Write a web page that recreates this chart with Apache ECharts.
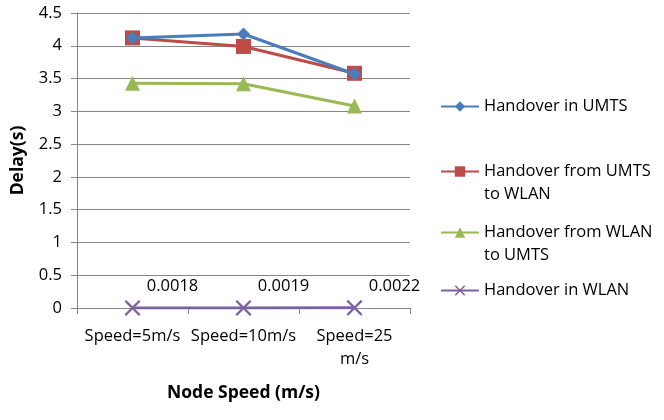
<!DOCTYPE html>
<html><head><meta charset="utf-8">
<script src="https://cdn.jsdelivr.net/npm/echarts@6/dist/echarts.min.js"></script>
<style>html,body{margin:0;padding:0;background:#fff}#c{width:664px;height:420px}</style>
</head><body><div id="c"></div>
<script>
const categories = ['Speed=5m/s', 'Speed=10m/s', 'Speed=25\nm/s'];
const seriesNames = ['Handover in UMTS', 'Handover from UMTS\nto WLAN', 'Handover from WLAN\nto UMTS', 'Handover in WLAN'];
const umts = [4.12, 4.18, 3.57];
const umtsToWlan = [4.12, 3.99, 3.58];
const wlanToUmts = [3.43, 3.42, 3.08];
const wlan = [0.0018, 0.0019, 0.0022];
const colors = ['#4A7EBB', '#BE4B48', '#98B954', '#7D60A0'];
const FONT = 'Open Sans';
const xPath = 'path://M0,1L1,0L5,4L9,0L10,1L6,5L10,9L9,10L5,6L1,10L0,9L4,5Z';

const chart = echarts.init(document.getElementById('c'), null, {renderer: 'canvas'});
const symbols = ['diamond', 'rect', 'triangle', xPath];
const sizes = [13, 15, 15, 16];
const datas = [umts, umtsToWlan, wlanToUmts, wlan];
const legendTops = [95, 137, 198, 279];

const series = seriesNames.map((n, i) => ({
  name: n,
  type: 'line',
  data: datas[i],
  symbol: symbols[i],
  symbolSize: sizes[i],
  showAllSymbol: true,
  lineStyle: {color: colors[i], width: 3},
  itemStyle: {color: colors[i]},
  z: 10 - i,
  label: i === 3 ? {
    show: true, position: 'top', offset: [40, 0], color: '#000',
    fontFamily: FONT, fontSize: 16.5,
    formatter: p => p.value.toFixed(4)
  } : {show: false},
  emphasis: {disabled: true},
  animation: false
}));

const legends = seriesNames.map((n, i) => ({
  data: [n],
  left: 440, top: legendTops[i],
  orient: 'vertical',
  padding: 0,
  itemWidth: 38, itemHeight: 13,
  itemGap: 0,
  formatter: name => name.indexOf('\n') >= 0 ? ' \n' + name : name,
  textStyle: {fontFamily: FONT, fontSize: 16.5, color: '#000', lineHeight: 23, padding: [0, 0, 0, 0]},
  selectedMode: false
}));

chart.setOption({
  animation: false,
  grid: {left: 77, right: 254, top: 13, bottom: 112},
  legend: legends,
  xAxis: {
    type: 'category',
    data: categories,
    boundaryGap: true,
    name: 'Node Speed (m/s)',
    nameLocation: 'middle',
    nameGap: 76,
    nameTextStyle: {fontFamily: FONT, fontSize: 17.5, fontWeight: 'bold', color: '#000'},
    axisLine: {lineStyle: {color: '#868686', width: 1}},
    axisTick: {show: true, length: 6, lineStyle: {color: '#868686'}},
    axisLabel: {fontFamily: FONT, fontSize: 16.5, color: '#000', margin: 17, lineHeight: 23, interval: 0}
  },
  yAxis: {
    type: 'value',
    min: 0, max: 4.5, interval: 0.5,
    name: 'Delay(s)',
    nameLocation: 'middle',
    nameGap: 50,
    nameTextStyle: {fontFamily: FONT, fontSize: 17.5, fontWeight: 'bold', color: '#000'},
    axisLine: {show: true, lineStyle: {color: '#868686', width: 1}},
    axisTick: {show: true, length: 6, lineStyle: {color: '#868686'}},
    axisLabel: {fontFamily: FONT, fontSize: 16.5, color: '#000', margin: 15},
    splitLine: {lineStyle: {color: '#868686', width: 1}}
  },
  series: series
});
</script></body></html>
